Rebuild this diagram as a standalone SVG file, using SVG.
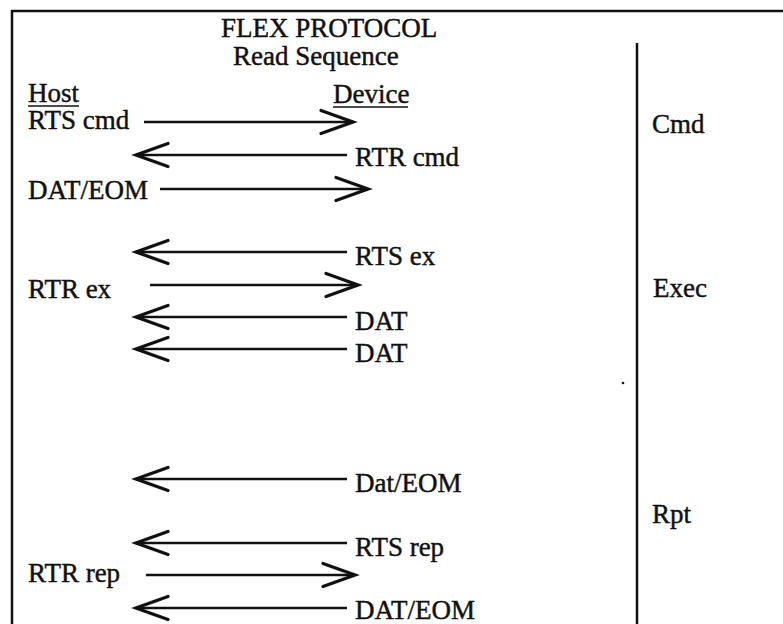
<svg xmlns="http://www.w3.org/2000/svg" width="783" height="624" viewBox="0 0 783 624">
<defs>
<style>
text{font-family:"Liberation Serif","Times New Roman",serif;font-size:27px;fill:#111;stroke:#111;stroke-width:0.45}
.frame{fill:none;stroke:#111;stroke-width:2.5}
.arr{fill:none;stroke:#111;stroke-width:2.6;marker-end:url(#head)}
.ul{stroke:#111;stroke-width:1.6}
</style>
<marker id="head" markerUnits="userSpaceOnUse" viewBox="-36 -15 40 30" refX="0" refY="0" markerWidth="40" markerHeight="30" orient="auto" overflow="visible">
<path d="M-32,-11.5 L0,0 L-32,11.5" fill="none" stroke="#111" stroke-width="3.3" stroke-linejoin="miter" stroke-linecap="round"/>
</marker>
</defs>
<rect width="783" height="624" fill="#fff"/>
<g id="frame">
<path class="frame" d="M12,624 V11 H783"/>
<line class="frame" x1="637" y1="43" x2="637" y2="624" stroke-width="2"/>
</g>
<g id="title">
<text x="221" y="37">FLEX PROTOCOL</text>
<text x="233" y="65">Read Sequence</text>
</g>
<g id="host">
<text x="28" y="102">Host</text>
<line class="ul" x1="28" y1="106" x2="79" y2="106"/>
</g>
<g id="device">
<text x="333" y="103">Device</text>
<line class="ul" x1="333" y1="107" x2="408" y2="107"/>
</g>
<g id="phases">
<text x="652" y="133">Cmd</text>
<text x="653" y="297">Exec</text>
<text x="652" y="523">Rpt</text>
</g>
<g id="labels">
<text x="28" y="129">RTS cmd</text>
<text x="355" y="166">RTR cmd</text>
<text x="28" y="199">DAT/EOM</text>
<text x="355" y="265">RTS ex</text>
<text x="28" y="298">RTR ex</text>
<text x="355" y="330">DAT</text>
<text x="355" y="362">DAT</text>
<text x="355" y="492">Dat/EOM</text>
<text x="355" y="556">RTS rep</text>
<text x="28" y="582">RTR rep</text>
<text x="355" y="619">DAT/EOM</text>
</g>
<g id="connectors">
<line class="arr" x1="144" y1="122" x2="353" y2="122"/>
<line class="arr" x1="347" y1="155" x2="136" y2="155"/>
<line class="arr" x1="160" y1="189" x2="368" y2="189"/>
<line class="arr" x1="347" y1="252" x2="136" y2="252"/>
<line class="arr" x1="150" y1="285" x2="358" y2="285"/>
<line class="arr" x1="347" y1="317" x2="136" y2="317"/>
<line class="arr" x1="347" y1="349" x2="136" y2="349"/>
<line class="arr" x1="347" y1="479" x2="136" y2="479"/>
<line class="arr" x1="347" y1="543" x2="136" y2="543"/>
<line class="arr" x1="146" y1="575" x2="355" y2="575"/>
<line class="arr" x1="347" y1="608" x2="136" y2="608"/>
</g>
<circle cx="623" cy="383" r="1.3" fill="#111"/>
</svg>
